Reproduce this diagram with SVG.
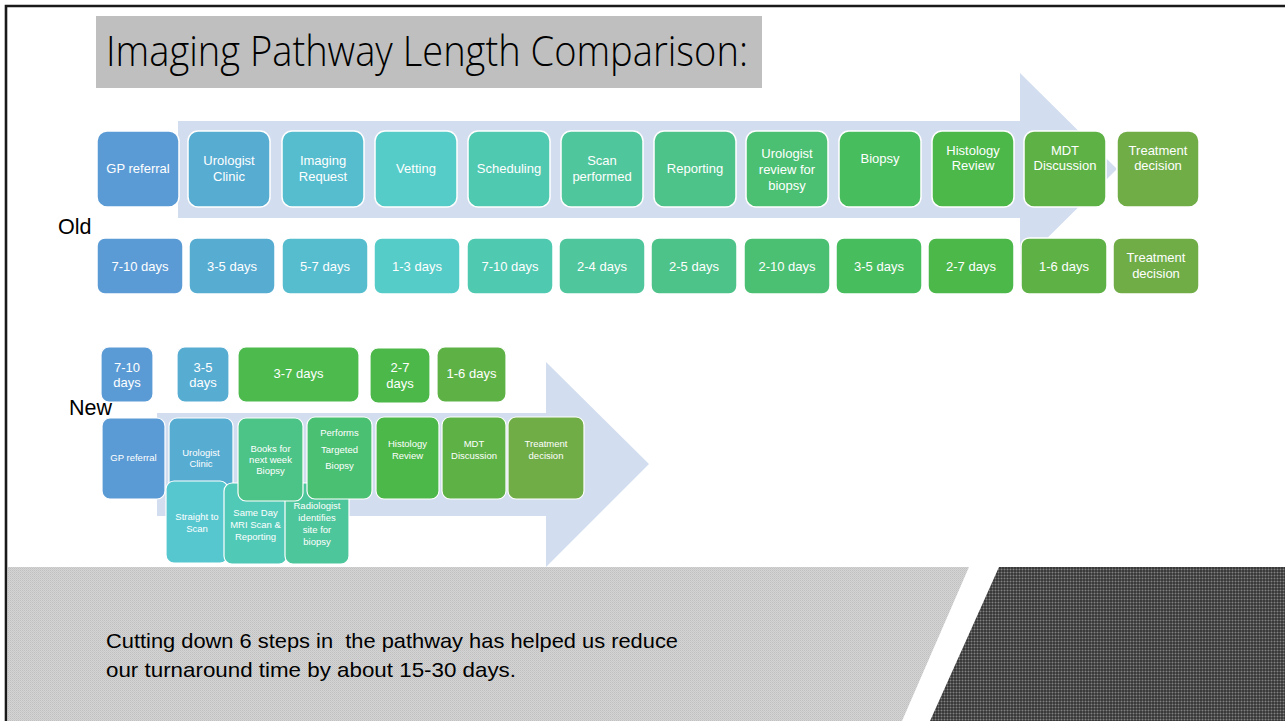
<svg xmlns="http://www.w3.org/2000/svg" width="1285" height="721" viewBox="0 0 1285 721">
<style>
.n{stroke:#fff;stroke-width:1.5}
.s{stroke:#fff;stroke-width:1.2}
.t{font-family:"Liberation Sans",Arial,sans-serif;font-size:13px;fill:#fff;text-anchor:middle}
.ts{font-family:"Liberation Sans",Arial,sans-serif;font-size:9.5px;fill:#fff;text-anchor:middle}
.lab{font-family:"Liberation Sans",Arial,sans-serif;font-size:21.5px;fill:#000}
.arr{fill:#D2DDEF}
</style>
<defs>
<pattern id="lt" width="2" height="2" patternUnits="userSpaceOnUse">
<rect width="2" height="2" fill="#d4d4d4"/>
<rect width="1" height="1" fill="#c0c0c0"/>
<rect x="1" y="1" width="1" height="1" fill="#c8c8c8"/>
</pattern>
<pattern id="dk" width="3" height="3" patternUnits="userSpaceOnUse">
<rect width="3" height="3" fill="#3a3a3a"/>
<rect y="2" width="3" height="1" fill="#555"/>
<rect x="2" width="1" height="3" fill="#555"/>
<rect x="2" y="2" width="1" height="1" fill="#808080"/>
</pattern>
</defs>
<rect width="1285" height="721" fill="#fff"/>
<g id="background">
<polygon points="8,567 969,567 902,721 8,721" fill="url(#lt)"/>
<polygon points="999,567 1285,567 1285,721 930,721" fill="url(#dk)"/>
<path d="M6,721 V6 H1285" fill="none" stroke="#1a1a1a" stroke-width="2.6"/>
</g>
<g id="title">
<rect x="96" y="16" width="666" height="72" fill="#BFBFBF"/>
<text x="106" y="66" font-family="'Open Sans','Liberation Sans',sans-serif" font-weight="300" font-size="42" fill="#000" textLength="642" lengthAdjust="spacingAndGlyphs">Imaging Pathway Length Comparison:</text>
</g>
<g id="connectors">
<polygon class="arr" points="178,121 1020,121 1020,73 1117,169 1020,265 1020,218 178,218"/>
<polygon class="arr" points="157,413 546,413 546,362 649,464 546,567 546,516 157,516"/>
</g>
<g id="labels">
<text class="lab" x="58" y="234">Old</text>
<text class="lab" x="69" y="415">New</text>
</g>
<g id="old-steps">
<g id="o0"><rect class="n" x="97" y="131" width="82" height="76" rx="10" fill="#5B9BD5"/><text class="t" x="138" y="172.5">GP referral</text></g>
<g id="o1"><rect class="n" x="188" y="131" width="82" height="76" rx="10" fill="#57ACD2"/><text class="t" y="164.5"><tspan x="229">Urologist</tspan><tspan x="229" dy="16">Clinic</tspan></text></g>
<g id="o2"><rect class="n" x="282" y="131" width="82" height="76" rx="10" fill="#55BDCE"/><text class="t" y="164.5"><tspan x="323">Imaging</tspan><tspan x="323" dy="16">Request</tspan></text></g>
<g id="o3"><rect class="n" x="375" y="131" width="82" height="76" rx="10" fill="#55CCC8"/><text class="t" x="416" y="172.5">Vetting</text></g>
<g id="o4"><rect class="n" x="468" y="131" width="82" height="76" rx="10" fill="#50C9B1"/><text class="t" x="509" y="172.5">Scheduling</text></g>
<g id="o5"><rect class="n" x="561" y="131" width="82" height="76" rx="10" fill="#4FC69B"/><text class="t" y="164.5"><tspan x="602">Scan</tspan><tspan x="602" dy="16">performed</tspan></text></g>
<g id="o6"><rect class="n" x="654" y="131" width="82" height="76" rx="10" fill="#4DC389"/><text class="t" x="695" y="172.5">Reporting</text></g>
<g id="o7"><rect class="n" x="746" y="131" width="82" height="76" rx="10" fill="#4BC072"/><text class="t" y="157.5"><tspan x="787">Urologist</tspan><tspan x="787" dy="16">review for</tspan><tspan x="787" dy="16">biopsy</tspan></text></g>
<g id="o8"><rect class="n" x="839" y="131" width="82" height="76" rx="10" fill="#48BD5E"/><text class="t" x="880" y="162.5">Biopsy</text></g>
<g id="o9"><rect class="n" x="932" y="131" width="82" height="76" rx="10" fill="#4BB849"/><text class="t" y="154.5"><tspan x="973">Histology</tspan><tspan x="973" dy="15">Review</tspan></text></g>
<g id="o10"><rect class="n" x="1024" y="131" width="82" height="76" rx="10" fill="#5EB245"/><text class="t" y="154.5"><tspan x="1065">MDT</tspan><tspan x="1065" dy="15">Discussion</tspan></text></g>
<g id="o11"><rect class="n" x="1117" y="131" width="82" height="76" rx="10" fill="#70AD47"/><text class="t" y="154.5"><tspan x="1158">Treatment</tspan><tspan x="1158" dy="15">decision</tspan></text></g>
</g>
<g id="old-durations">
<g id="d0"><rect class="n" x="97" y="238" width="86" height="56" rx="8" fill="#5B9BD5"/><text class="t" x="140" y="270.5">7-10 days</text></g>
<g id="d1"><rect class="n" x="189" y="238" width="86" height="56" rx="8" fill="#57ACD2"/><text class="t" x="232" y="270.5">3-5 days</text></g>
<g id="d2"><rect class="n" x="282" y="238" width="86" height="56" rx="8" fill="#55BDCE"/><text class="t" x="325" y="270.5">5-7 days</text></g>
<g id="d3"><rect class="n" x="374" y="238" width="86" height="56" rx="8" fill="#55CCC8"/><text class="t" x="417" y="270.5">1-3 days</text></g>
<g id="d4"><rect class="n" x="467" y="238" width="86" height="56" rx="8" fill="#50C9B1"/><text class="t" x="510" y="270.5">7-10 days</text></g>
<g id="d5"><rect class="n" x="559" y="238" width="86" height="56" rx="8" fill="#4FC69B"/><text class="t" x="602" y="270.5">2-4 days</text></g>
<g id="d6"><rect class="n" x="651" y="238" width="86" height="56" rx="8" fill="#4DC389"/><text class="t" x="694" y="270.5">2-5 days</text></g>
<g id="d7"><rect class="n" x="744" y="238" width="86" height="56" rx="8" fill="#4BC072"/><text class="t" x="787" y="270.5">2-10 days</text></g>
<g id="d8"><rect class="n" x="836" y="238" width="86" height="56" rx="8" fill="#48BD5E"/><text class="t" x="879" y="270.5">3-5 days</text></g>
<g id="d9"><rect class="n" x="928" y="238" width="86" height="56" rx="8" fill="#4BB849"/><text class="t" x="971" y="270.5">2-7 days</text></g>
<g id="d10"><rect class="n" x="1021" y="238" width="86" height="56" rx="8" fill="#5EB245"/><text class="t" x="1064" y="270.5">1-6 days</text></g>
<g id="d11"><rect class="n" x="1113" y="238" width="86" height="56" rx="8" fill="#70AD47"/><text class="t" y="261.5"><tspan x="1156">Treatment</tspan><tspan x="1156" dy="16">decision</tspan></text></g>
</g>
<g id="new-durations">
<g id="nd0"><rect class="s" x="101" y="347" width="52" height="55" rx="8" fill="#5B9BD5"/><text class="t" y="371.5"><tspan x="127">7-10</tspan><tspan x="127" dy="15">days</tspan></text></g>
<g id="nd1"><rect class="s" x="177" y="347" width="52" height="55" rx="8" fill="#57ACD2"/><text class="t" y="371.5"><tspan x="203">3-5</tspan><tspan x="203" dy="15">days</tspan></text></g>
<g id="nd2"><rect class="s" x="238" y="347" width="121" height="55" rx="8" fill="#4CBA4D"/><text class="t" x="298.5" y="377.5">3-7 days</text></g>
<g id="nd3"><rect class="s" x="370" y="348" width="60" height="55" rx="8" fill="#4CB849"/><text class="t" y="371.5"><tspan x="400">2-7</tspan><tspan x="400" dy="16">days</tspan></text></g>
<g id="nd4"><rect class="s" x="437" y="347" width="69" height="55" rx="8" fill="#5EB245"/><text class="t" x="471.5" y="377.5">1-6 days</text></g>
</g>
<g id="new-steps">
<g id="n0"><rect class="s" x="102" y="418" width="63" height="81" rx="8" fill="#5B9BD5"/><text class="ts" x="133.5" y="460.5">GP referral</text></g>
<g id="n1"><rect class="s" x="169" y="418" width="64" height="81" rx="8" fill="#57ACD2"/><text class="ts" y="456.3"><tspan x="201">Urologist</tspan><tspan x="201" dy="11">Clinic</tspan></text></g>
<g id="n2"><rect class="s" x="166" y="481" width="62" height="82" rx="8" fill="#56C7CF"/><text class="ts" y="519.5"><tspan x="197">Straight to</tspan><tspan x="197" dy="12">Scan</tspan></text></g>
<g id="n3"><rect class="s" x="224" y="483" width="63" height="81" rx="8" fill="#51C9B7"/><text class="ts" y="515.5"><tspan x="255.5">Same Day</tspan><tspan x="255.5" dy="12">MRI Scan &amp;</tspan><tspan x="255.5" dy="12">Reporting</tspan></text></g>
<g id="n4"><rect class="s" x="285" y="483" width="64" height="81" rx="8" fill="#4EC69C"/><text class="ts" y="508.5"><tspan x="317">Radiologist</tspan><tspan x="317" dy="12">identifies</tspan><tspan x="317" dy="12">site for</tspan><tspan x="317" dy="12">biopsy</tspan></text></g>
<g id="n5"><rect class="s" x="238" y="418" width="65" height="83" rx="8" fill="#4CC387"/><text class="ts" y="451.5"><tspan x="270.5">Books for</tspan><tspan x="270.5" dy="11">next week</tspan><tspan x="270.5" dy="11">Biopsy</tspan></text></g>
<g id="n6"><rect class="s" x="307" y="417" width="65" height="82" rx="8" fill="#4AC073"/><text class="ts" y="435.5"><tspan x="339.5">Performs</tspan><tspan x="339.5" dy="17">Targeted</tspan><tspan x="339.5" dy="16">Biopsy</tspan></text></g>
<g id="n7"><rect class="s" x="376" y="417" width="63" height="82" rx="8" fill="#4BB849"/><text class="ts" y="447.3"><tspan x="407.5">Histology</tspan><tspan x="407.5" dy="12">Review</tspan></text></g>
<g id="n8"><rect class="s" x="442" y="417" width="64" height="82" rx="8" fill="#5EB245"/><text class="ts" y="447.3"><tspan x="474">MDT</tspan><tspan x="474" dy="12">Discussion</tspan></text></g>
<g id="n9"><rect class="s" x="508" y="417" width="76" height="82" rx="8" fill="#70AD47"/><text class="ts" y="447.3"><tspan x="546">Treatment</tspan><tspan x="546" dy="12">decision</tspan></text></g>
</g>
<g id="summary">
<text font-family="'Liberation Sans',Arial,sans-serif" font-size="21" fill="#000"><tspan x="106" y="648" textLength="572" lengthAdjust="spacingAndGlyphs" xml:space="preserve">Cutting down 6 steps in  the pathway has helped us reduce</tspan><tspan x="106" y="677" textLength="410" lengthAdjust="spacingAndGlyphs">our turnaround time by about 15-30 days.</tspan></text>
</g>
</svg>
